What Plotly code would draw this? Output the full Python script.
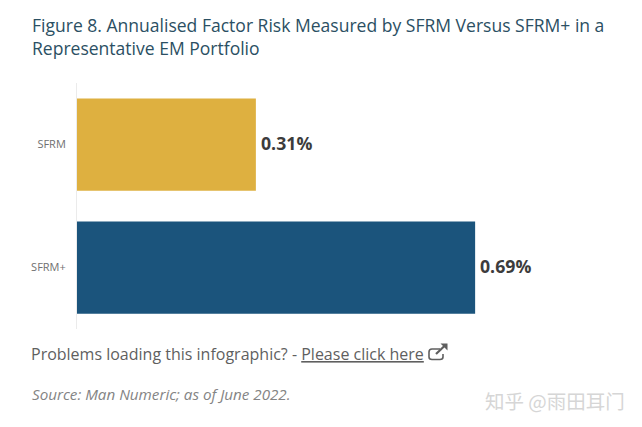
import plotly.graph_objects as go

categories = ["SFRM", "SFRM+"]
values = [0.31, 0.69]
value_labels = ["0.31%", "0.69%"]
bar_colors = ["#DEB040", "#1B547C"]
title_text = "Figure 8. Annualised Factor Risk Measured by SFRM Versus SFRM+ in a<br>Representative EM Portfolio"

W, H = 642, 427
L, R, T, B = 77, 22, 83, 98
pw, ph = W - L - R, H - T - B
FONT = "Open Sans"

def px(x):
    return (x - L) / pw

def py(y):
    return (H - B - y) / ph

fig = go.Figure(go.Bar(
    y=categories, x=values, orientation="h", width=0.75,
    marker=dict(color=bar_colors, line_width=0),
    cliponaxis=False, hoverinfo="skip",
))

for cat, val, lab in zip(categories, values, value_labels):
    fig.add_annotation(x=val, y=cat, xref="x", yref="y", text=lab, showarrow=False,
                       xanchor="left", yanchor="middle", xshift=3, yshift=2,
                       font=dict(family=FONT, size=17.7, color="#3c3c3c", weight=700))

def note(x, y, text, size, color):
    fig.add_annotation(xref="paper", yref="paper", x=px(x), y=py(y), text=text,
                       showarrow=False, xanchor="left", yanchor="middle",
                       align="left", font=dict(family=FONT, size=size, color=color))

note(30, 36.5, title_text, 17.55, "#2B4F63")
note(29, 354, 'Problems loading this infographic? - <u>Please click here</u>', 16, "#5f5f5f")
note(30, 394, '<i>Source: Man Numeric; as of June 2022.</i>', 15.2, "#848484")
fig.add_annotation(xref="paper", yref="paper", x=px(627), y=py(400), text="知乎 @雨田耳门",
                   showarrow=False, xanchor="right", yanchor="middle",
                   font=dict(family="Noto Sans CJK SC", size=19.5, color="#d6d6d6"))

# external-link icon next to the link text
icon_color = "#5f5f5f"
box = (f"M {px(440)} {py(349)} L {px(432)} {py(349)} Q {px(429)} {py(349)} {px(429)} {py(352)} "
       f"L {px(429)} {py(357)} Q {px(429)} {py(359.5)} {px(432)} {py(359.5)} "
       f"L {px(440)} {py(359.5)} Q {px(443)} {py(359.5)} {px(443)} {py(357)} L {px(443)} {py(354)}")
fig.add_shape(type="path", xref="paper", yref="paper", path=box, line=dict(color=icon_color, width=1.6))
fig.add_shape(type="line", xref="paper", yref="paper", x0=px(436), y0=py(354), x1=px(445), y1=py(345.5),
              line=dict(color=icon_color, width=2.2))
arrow = f"M {px(440.5)} {py(343.5)} L {px(447.5)} {py(343.5)} L {px(447.5)} {py(350.5)} Z"
fig.add_shape(type="path", xref="paper", yref="paper", path=arrow, fillcolor=icon_color, line_width=0)

fig.update_layout(
    width=W, height=H, autosize=False,
    margin=dict(l=L, r=R, t=T, b=B, pad=0),
    paper_bgcolor="white", plot_bgcolor="white",
    showlegend=False, bargap=0.25,
    xaxis=dict(range=[0, 543 / 577], visible=False, fixedrange=True),
    yaxis=dict(categoryorder="array", categoryarray=categories[::-1],
               showline=True, linecolor="#ebebeb", linewidth=1, ticks="",
               ticklen=0, ticklabelstandoff=8, showgrid=False, zeroline=False,
               tickfont=dict(family=FONT, size=11, color="#707070"), fixedrange=True),
)

fig.write_html("out.html", config=dict(displayModeBar=False),
               post_script="document.body.style.margin='0';document.documentElement.style.overflow='hidden';")
